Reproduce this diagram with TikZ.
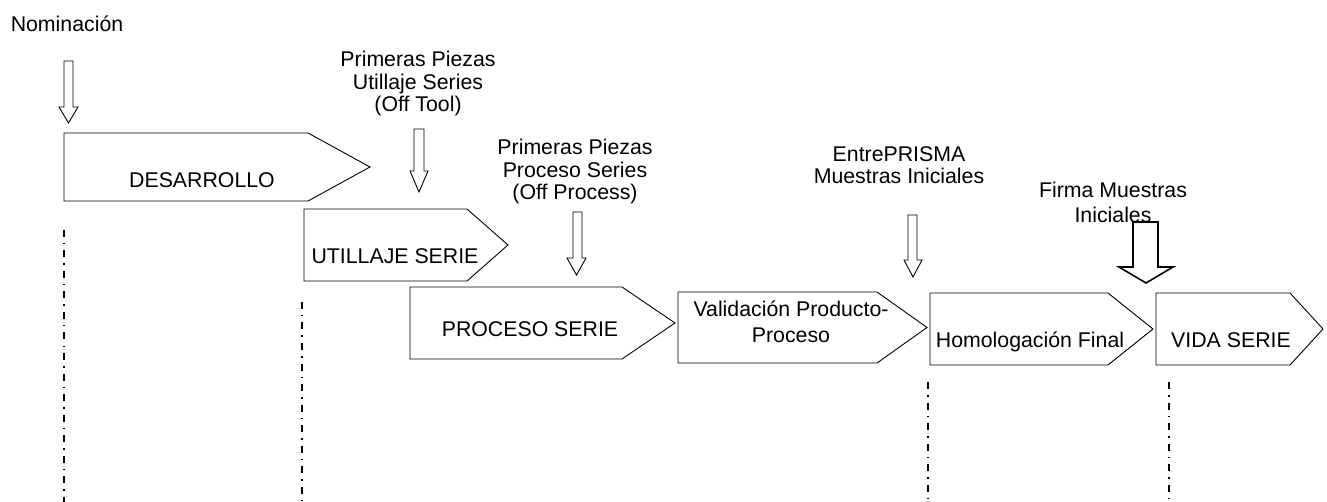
\documentclass[tikz,border=0pt]{standalone}
\usepackage{fontspec}
\setmainfont{Liberation Sans}
\begin{document}
\begin{tikzpicture}[x=1pt,y=-1pt,
  phase/.style={draw=black,line width=0.9pt,fill=white,line join=miter},
  lbl/.style={anchor=base,inner sep=0pt,align=center,font=\fontsize{21.3}{22.5}\selectfont},
  lblw/.style={anchor=base,inner sep=0pt,align=center,font=\fontsize{21.3}{25}\selectfont},
  marker/.style={draw=black,line width=0.9pt,fill=white,line join=miter},
  bigmarker/.style={draw=black,line width=1.6pt,fill=white,line join=miter},
  milestone/.style={draw=black,line width=1.3pt,dash pattern=on 7pt off 6pt on 1.5pt off 6pt}]
\useasboundingbox (0,0) rectangle (1327,502);
% block arrow: #1 style, #2 left of shaft, #3 right of shaft, #4 top, #5 head start, #6 head left, #7 head right, #8 tip
\newcommand{\blockdown}[8]{%
  \path[#1] (#2,#4) -- (#3,#4) -- (#3,#5) -- (#7,#5) -- ({(#6+#7)/2},#8) -- (#6,#5) -- (#2,#5) -- cycle;}
% phase boxes
\path[phase] (64,133) -- (308,133) -- (370,167) -- (308,201) -- (64,201) -- cycle;
\path[phase] (304,209) -- (467,209) -- (508,245) -- (467,281) -- (304,281) -- cycle;
\path[phase] (410,287) -- (622,287) -- (675,323) -- (622,359) -- (410,359) -- cycle;
\path[phase] (678,292) -- (877,292) -- (927,327.5) -- (877,363) -- (678,363) -- cycle;
\path[phase] (930,293) -- (1108,293) -- (1153,329) -- (1108,365) -- (930,365) -- cycle;
\path[phase] (1156,293) -- (1290,293) -- (1323,329) -- (1290,365) -- (1156,365) -- cycle;
% phase texts (base = baseline of last line)
\node[lbl] (des) at (202,188) {DESARROLLO};
\node[lbl] (uti) at (395,264) {UTILLAJE SERIE};
\node[lbl] (pro) at (530,337) {PROCESO SERIE};
\node[lblw] (val) at (791,342) {Validación Producto-\\Proceso};
\node[lbl] (hom) at (1030,347) {Homologación Final};
\node[lbl] (vid) at (1231,347) {VIDA SERIE};
% milestone labels
\node[lbl] (nom) at (67,32) {Nominación};
\node[lbl] (tool) at (418,112) {Primeras Piezas\\Utillaje Series\\(Off Tool)};
\node[lbl] (proc) at (575,200) {Primeras Piezas\\Proceso Series\\(Off Process)};
\node[lbl] (entre) at (899,184) {EntrePRISMA\\Muestras Iniciales};
\node[lblw] (firma) at (1113,223) {Firma Muestras\\Iniciales};
% milestone arrows
\blockdown{marker}{64}{73}{61}{107}{59}{78}{123}
\blockdown{marker}{414}{424}{129}{171}{410}{428}{192}
\blockdown{marker}{573}{582}{212}{258}{567}{586}{275}
\blockdown{marker}{908}{917}{215}{260}{904}{922}{277}
\blockdown{bigmarker}{1133}{1158}{222}{267}{1119}{1173}{283}
% milestone lines
\coordinate (m1a) at (64,230);  \coordinate (m1b) at (64,502);
\coordinate (m2a) at (302,302); \coordinate (m2b) at (302,502);
\coordinate (m3a) at (928,382); \coordinate (m3b) at (928,502);
\coordinate (m4a) at (1169,382); \coordinate (m4b) at (1169,502);
\draw[milestone] (m1a) -- (m1b);
\draw[milestone] (m2a) -- (m2b);
\draw[milestone] (m3a) -- (m3b);
\draw[milestone] (m4a) -- (m4b);
\end{tikzpicture}
\end{document}
